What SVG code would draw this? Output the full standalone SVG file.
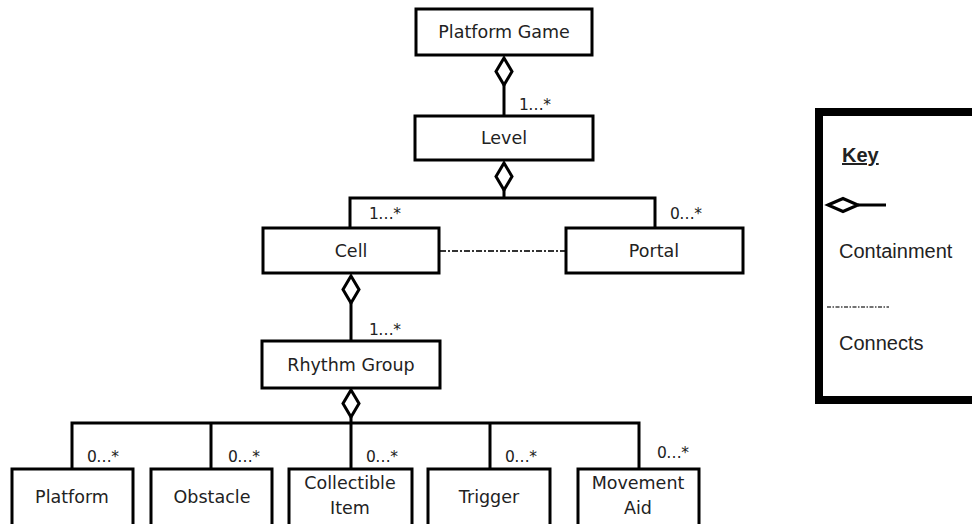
<svg xmlns="http://www.w3.org/2000/svg" width="972" height="524" viewBox="0 0 972 524">
<style>
.box{fill:#fff;stroke:#000;stroke-width:3}
.t{font-family:"DejaVu Sans",sans-serif;font-size:17.5px;fill:#222;text-anchor:middle}
.m{font-family:"DejaVu Sans",sans-serif;font-size:15.5px;fill:#222;letter-spacing:-0.5px}
.ln{fill:none;stroke:#000;stroke-width:3}
.dia{fill:#fff;stroke:#000;stroke-width:3}
.dd{fill:none;stroke:#333;stroke-width:2;stroke-dasharray:6 2 2 2}
.k{font-family:"Liberation Sans",Arial,sans-serif;font-size:20px;fill:#222}
</style>
<rect width="972" height="524" fill="#fff"/>
<g id="connectors">
<line class="ln" x1="504" y1="85" x2="504" y2="116"/>
<polygon class="dia" points="504,58 512,71.5 504,85 496,71.5"/>
<text class="m" x="519" y="110">1…*</text>
<path class="ln" d="M504 190 V198 M350 228 V198 H655 V228"/>
<polygon class="dia" points="504,163 512,176.5 504,190 496,176.5"/>
<text class="m" x="369" y="219">1…*</text>
<text class="m" x="670" y="219">0…*</text>
<line class="dd" x1="440" y1="251" x2="566" y2="251"/>
<line class="ln" x1="351" y1="303" x2="351" y2="341"/>
<polygon class="dia" points="351,276 359,289.5 351,303 343,289.5"/>
<text class="m" x="369" y="335">1…*</text>
<path class="ln" d="M351 417 V469 M72 469 V423 H639 V469 M211 423 V469 M490 423 V469"/>
<polygon class="dia" points="351,390 359,403.5 351,417 343,403.5"/>
<text class="m" x="87" y="462">0…*</text>
<text class="m" x="228" y="462">0…*</text>
<text class="m" x="366" y="462">0…*</text>
<text class="m" x="505" y="462">0…*</text>
<text class="m" x="657" y="458">0…*</text>
</g>
<g id="platform-game"><rect class="box" x="416" y="9" width="176" height="46"/><text class="t" x="504" y="38">Platform Game</text></g>
<g id="level"><rect class="box" x="415" y="116" width="178" height="44"/><text class="t" x="504" y="144">Level</text></g>
<g id="cell"><rect class="box" x="263" y="228" width="176" height="45"/><text class="t" x="351" y="257">Cell</text></g>
<g id="portal"><rect class="box" x="566" y="228" width="177" height="45"/><text class="t" x="654" y="257">Portal</text></g>
<g id="rhythm-group"><rect class="box" x="262" y="341" width="178" height="47"/><text class="t" x="351" y="371">Rhythm Group</text></g>
<g id="platform"><rect class="box" x="12" y="469" width="121" height="70"/><text class="t" x="72" y="503">Platform</text></g>
<g id="obstacle"><rect class="box" x="151" y="469" width="121" height="70"/><text class="t" x="212" y="503">Obstacle</text></g>
<g id="collectible-item"><rect class="box" x="289" y="469" width="123" height="70"/><text class="t" x="350" y="489">Collectible</text><text class="t" x="350" y="514">Item</text></g>
<g id="trigger"><rect class="box" x="428" y="469" width="122" height="70"/><text class="t" x="489" y="503">Trigger</text></g>
<g id="movement-aid"><rect class="box" x="578" y="469" width="121" height="70"/><text class="t" x="638" y="489">Movement</text><text class="t" x="638" y="514">Aid</text></g>
<g id="key">
<rect x="819" y="112" width="170" height="288" fill="#fff" stroke="#000" stroke-width="8"/>
<text class="k" x="842" y="162" font-weight="bold" text-decoration="underline">Key</text>
<polygon points="828,205 843,198.5 858,205 843,211.5" fill="#fff" stroke="#000" stroke-width="3"/>
<line x1="858" y1="205" x2="886" y2="205" stroke="#000" stroke-width="3"/>
<text class="k" x="839" y="258">Containment</text>
<line x1="827" y1="307" x2="889" y2="307" stroke="#444" stroke-width="1.5" stroke-dasharray="4 1.5 1.5 1.5"/>
<text class="k" x="839" y="350">Connects</text>
</g>
</svg>
